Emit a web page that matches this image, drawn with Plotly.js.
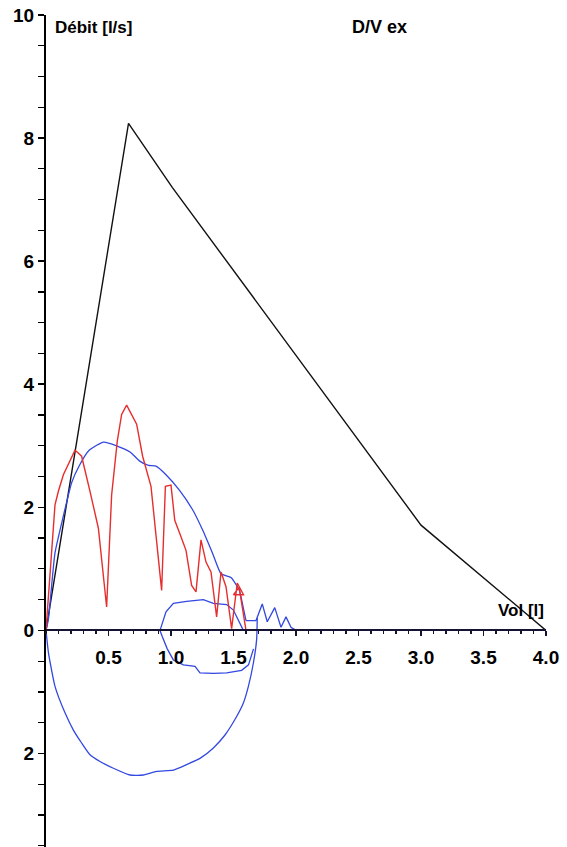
<!DOCTYPE html>
<html>
<head>
<meta charset="utf-8">
<script src="https://cdn.plot.ly/plotly-3.0.1.min.js"></script>
<style>html,body{margin:0;padding:0;background:#fff;}#chart{width:567px;height:847px;}</style>
</head>
<body>
<div id="chart"></div>
<script>
// Predicted (black) curve
const predVol = [0, 0.66, 1.01, 3.0, 4.0];
const predFlow = [0, 8.24, 7.2, 1.71, 0];

// Red expiration curve
const redVol = [0,0.03,0.072,0.099,0.139,0.232,0.285,0.352,0.419,0.485,0.525,0.57,0.605,0.645,0.725,0.773,0.84,0.925,0.955,1.0,1.03,1.08,1.12,1.165,1.2,1.24,1.28,1.32,1.365,1.4,1.44,1.485,1.53,1.58,1.5,1.545,1.6];
const redFlow = [0,0.9,2.04,2.26,2.53,2.93,2.83,2.26,1.66,0.38,2.2,3.07,3.51,3.66,3.35,2.83,2.34,0.65,2.34,2.36,1.79,1.52,1.30,0.73,0.625,1.47,1.11,0.95,0.22,0.95,0.71,0.03,0.77,0.58,0.58,0.7,0.0];

// Blue expiration curve
const blueExpVol = [0,0.019,0.072,0.139,0.205,0.267,0.347,0.46,0.565,0.672,0.75,0.82,0.88,0.96,1.067,1.173,1.253,1.333,1.4,1.48,1.547,1.575,1.6];
const blueExpFlow = [0,0.18,1.26,1.86,2.4,2.68,2.93,3.06,3.0,2.9,2.75,2.68,2.67,2.53,2.28,1.96,1.63,1.25,0.92,0.86,0.65,0.4,0.16];

// Blue tail after expiration
const blueTailVol = [1.6,1.68,1.73,1.77,1.83,1.88,1.92,1.96,2.0];
const blueTailFlow = [0.16,0.16,0.43,0.14,0.37,0.05,0.22,0.05,0];

// Blue inspiration curve
const blueInsVol = [1.69,1.685,1.659,1.619,1.579,1.525,1.432,1.339,1.232,1.125,1.019,0.885,0.779,0.672,0.539,0.432,0.352,0.285,0.219,0.152,0.072,0.02,0];
const blueInsFlow = [0.2,-0.15,-0.53,-0.91,-1.18,-1.40,-1.70,-1.91,-2.08,-2.18,-2.27,-2.29,-2.35,-2.35,-2.24,-2.13,-2.02,-1.83,-1.62,-1.34,-0.91,-0.37,0];

// Second small blue loop
const blueLoopVol = [1.66,1.62,1.565,1.445,1.339,1.232,1.192,1.099,1.019,0.97,0.93,0.912,0.96,1.019,1.125,1.259,1.339,1.445,1.499,1.552,1.579];
const blueLoopFlow = [-0.3,-0.56,-0.65,-0.69,-0.70,-0.69,-0.585,-0.56,-0.48,-0.3,-0.1,0,0.3,0.44,0.47,0.5,0.44,0.42,0.33,0.11,0];

// Tick labels
const xTickVals = [0.5,1.0,1.5,2.0,2.5,3.0,3.5,4.0];
const xTickText = ['0.5','1.0','1.5','2.0','2.5','3.0','3.5','4.0'];
const yTickVals = [-2,0,2,4,6,8,10];
const yTickText = ['2','0','2','4','6','8','10'];

const BLUE = '#3348e0', RED = '#e62e2e';
const traces = [
  {x: predVol, y: predFlow, mode:'lines', line:{color:'#111', width:1.4}},
  {x: blueExpVol, y: blueExpFlow, mode:'lines', line:{color:BLUE, width:1.3, shape:'spline', smoothing:0.5}},
  {x: blueTailVol, y: blueTailFlow, mode:'lines', line:{color:BLUE, width:1.3}},
  {x: blueInsVol, y: blueInsFlow, mode:'lines', line:{color:BLUE, width:1.3, shape:'spline', smoothing:0.5}},
  {x: blueLoopVol, y: blueLoopFlow, mode:'lines', line:{color:BLUE, width:1.3}},
  {x: redVol, y: redFlow, mode:'lines', line:{color:RED, width:1.4}}
];

const yMin = -3.52, yMax = 10;
const FONT = 'Liberation Sans, Arial, sans-serif';
const layout = {
  width:567, height:847,
  margin:{l:46, r:21, t:15, b:0, pad:0},
  showlegend:false,
  paper_bgcolor:'#fff', plot_bgcolor:'#fff',
  font:{family:FONT, color:'#000', size:19},
  xaxis:{
    range:[0,4], anchor:'free', position:(0 - yMin)/(yMax - yMin),
    showgrid:false, zeroline:false, showline:true, linecolor:'#141432', linewidth:2,
    tickmode:'array', tickvals:xTickVals, ticktext:xTickText,
    ticks:'outside', ticklen:5, tickwidth:1.5, tickcolor:'#141432',
    ticklabelstandoff:5,
    minor:{dtick:0.1, tick0:0, ticks:'outside', ticklen:3, tickwidth:1.2, tickcolor:'#141432'},
    tickfont:{family:FONT, size:19, color:'#000', weight:'bold'}
  },
  yaxis:{
    range:[yMin,yMax],
    showgrid:false, zeroline:false, showline:true, linecolor:'#000', linewidth:2,
    tickmode:'array', tickvals:yTickVals, ticktext:yTickText,
    ticks:'outside', ticklen:6, tickwidth:1.5, tickcolor:'#000',
    minor:{dtick:0.5, tick0:0, ticks:'outside', ticklen:6, tickwidth:1.2, tickcolor:'#000'},
    tickfont:{family:FONT, size:19, color:'#000', weight:'bold'}
  },
  annotations:[
    {text:'Débit [l/s]', xref:'x', yref:'y', x:0.055, y:9.8, xanchor:'left', yanchor:'middle', showarrow:false, font:{family:FONT, size:17, color:'#000', weight:'bold'}},
    {text:'D/V ex', xref:'x', yref:'y', x:2.43, y:9.8, xanchor:'left', yanchor:'middle', showarrow:false, font:{family:FONT, size:18, color:'#000', weight:'bold'}},
    {text:'Vol [l]', xref:'x', yref:'y', x:4.0, y:0.33, xanchor:'right', yanchor:'middle', showarrow:false, font:{family:FONT, size:17, color:'#000', weight:'bold'}}
  ]
};
Plotly.newPlot('chart', traces, layout, {displayModeBar:false, staticPlot:true});
</script>
</body>
</html>
